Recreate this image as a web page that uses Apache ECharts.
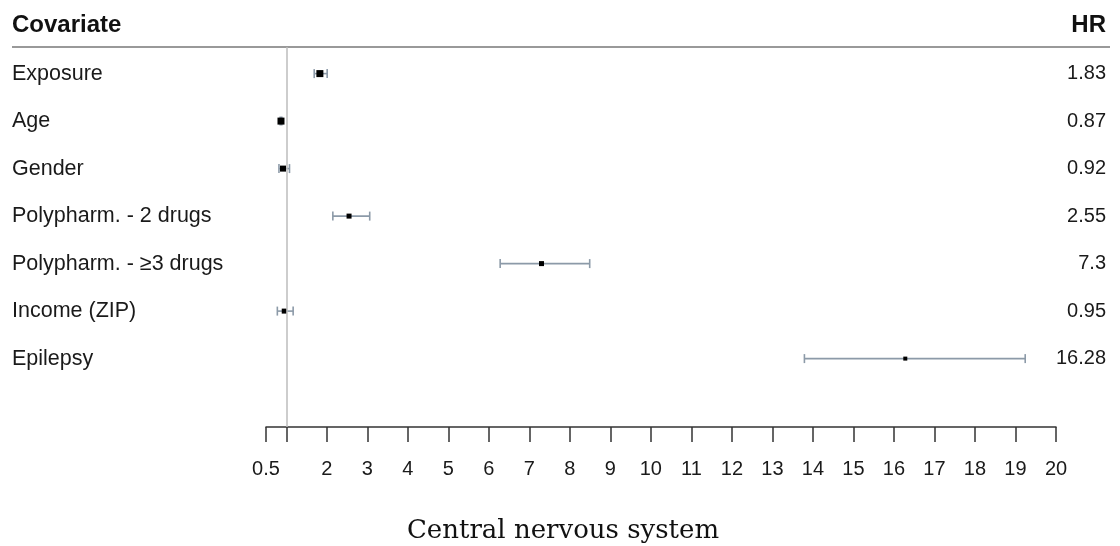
<!DOCTYPE html>
<html><head><meta charset="utf-8">
<script src="https://cdn.jsdelivr.net/npm/echarts@6/dist/echarts.min.js"></script>
<style>html,body{margin:0;padding:0;background:#fff}#c{width:1120px;height:546px}</style>
</head><body><div id="c"></div>
<script>
const covariates = ['Exposure','Age','Gender','Polypharm. - 2 drugs','Polypharm. - \u22653 drugs','Income (ZIP)','Epilepsy'];
const hr      = [1.83, 0.87, 0.92, 2.55, 7.30, 0.95, 16.28];
const ciLow   = [1.69, 0.85, 0.82, 2.15, 6.28, 0.78, 13.79];
const ciHigh  = [2.01, 0.89, 1.08, 3.06, 8.49, 1.17, 19.24];
const hrLabels = ['1.83','0.87','0.92','2.55','7.3','0.95','16.28'];
const xTicks = [0.5,1,2,3,4,5,6,7,8,9,10,11,12,13,14,15,16,17,18,19,20];
const xLabels = [0.5,2,3,4,5,6,7,8,9,10,11,12,13,14,15,16,17,18,19,20];

const rowPos = covariates.map((c,i)=>i+0.56);
const boxSize = [7,7,6,5,5,5,4];
const FONT = '"Liberation Sans", Arial, sans-serif';
const chart = echarts.init(document.getElementById('c'), null, {renderer:'canvas'});
const data = covariates.map((c,i)=>[hr[i], ciLow[i], ciHigh[i], rowPos[i], i]);

chart.setOption({
  animation:false,
  grid:{left:266, right:64, top:47, bottom:119},
  xAxis:{type:'value', min:0.5, max:20, position:'bottom',
    splitLine:{show:false},
    axisLine:{onZero:false, lineStyle:{color:'#333', width:1.5}},
    axisTick:{customValues:xTicks, length:15, inside:false, lineStyle:{color:'#333', width:1.5}},
    axisLabel:{customValues:xLabels, margin:32, fontSize:20, color:'#1a1a1a', fontFamily:FONT}
  },
  yAxis:[
    {type:'value', min:0, max:8, inverse:true, position:'left',
      axisLine:{show:false}, axisTick:{show:false}, splitLine:{show:false},
      axisLabel:{customValues:rowPos, align:'left', margin:254, fontSize:21.5, color:'#1a1a1a', fontFamily:FONT,
        formatter:v=>covariates[Math.round(v-0.56)]}},
    {type:'value', min:0, max:8, inverse:true, position:'right',
      axisLine:{show:false}, axisTick:{show:false}, splitLine:{show:false},
      axisLabel:{customValues:rowPos, align:'right', margin:50, fontSize:20, color:'#1a1a1a', fontFamily:FONT,
        formatter:v=>hrLabels[Math.round(v-0.56)]}}
  ],
  graphic:[
    {type:'text', left:12, top:13, style:{text:'Covariate', font:'bold 24px '+FONT, fill:'#111'}},
    {type:'text', right:14, top:13, style:{text:'HR', font:'bold 24px '+FONT, fill:'#111', textAlign:'right'}},
    {type:'line', shape:{x1:12, y1:47, x2:1110, y2:47}, style:{stroke:'#777', lineWidth:1.5}},
    {type:'text', x:563, y:518, style:{text:'Central nervous system', font:'26px "DejaVu Serif", "Liberation Serif", serif', fill:'#111', textAlign:'center'}}
  ],
  series:[{
    type:'custom', xAxisIndex:0, yAxisIndex:0, data:data, clip:false,
    renderItem:(params, api)=>{
      const y = api.value(3);
      const p = api.coord([api.value(0), y]);
      const l = api.coord([api.value(1), y]);
      const h = api.coord([api.value(2), y]);
      const s = boxSize[api.value(4)];
      const cap = 4.5;
      const st = {stroke:'#8c9aa8', lineWidth:1.6};
      return {type:'group', children:[
        {type:'line', shape:{x1:l[0], y1:p[1], x2:h[0], y2:p[1]}, style:st},
        {type:'line', shape:{x1:l[0], y1:p[1]-cap, x2:l[0], y2:p[1]+cap}, style:st},
        {type:'line', shape:{x1:h[0], y1:p[1]-cap, x2:h[0], y2:p[1]+cap}, style:st},
        {type:'rect', shape:{x:p[0]-s/2, y:p[1]-s/2, width:s, height:s}, style:{fill:'#000'}}
      ]};
    },
    markLine:{silent:true, symbol:'none', label:{show:false},
      lineStyle:{color:'#bdbdbd', width:1.5, type:'solid'},
      data:[{xAxis:1}]},
    z:3
  }]
});
</script></body></html>
